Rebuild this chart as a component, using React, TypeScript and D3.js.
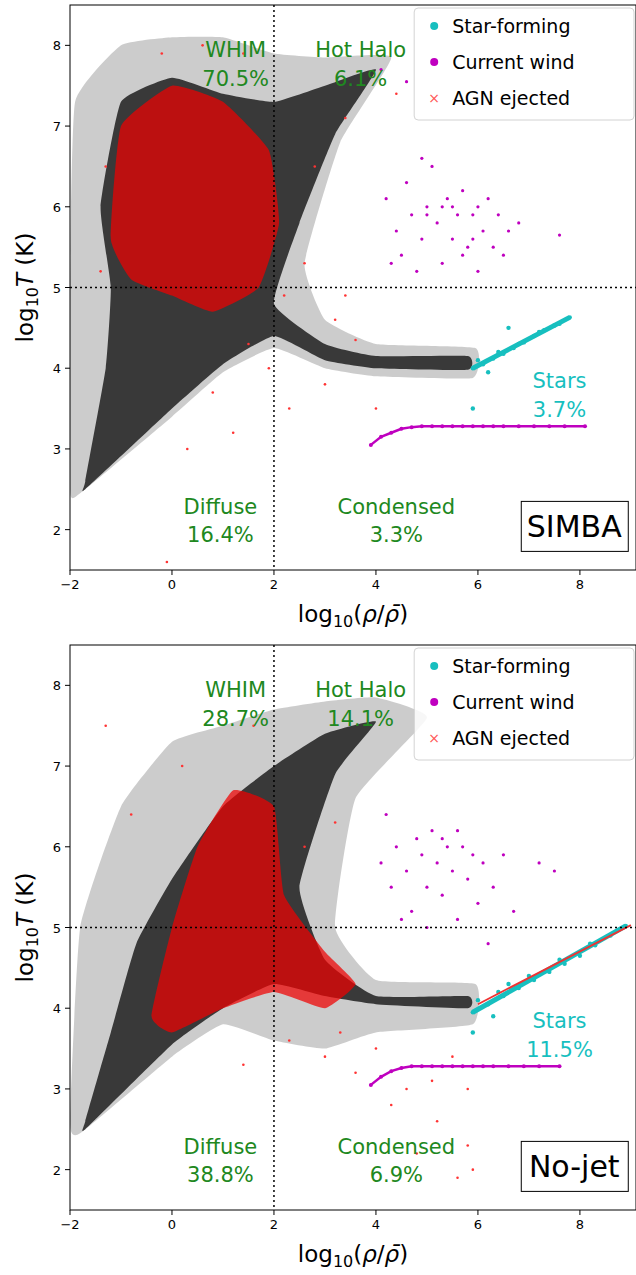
import React from 'react';
import * as d3 from 'd3';

// region outlines, in (log rho, log T)
const simbaSparse: [number, number][] = [[-1.8,2.45],[0,3.4],[1,3.95],[2,4.25],[3,4.0],[4,3.9],[5.9,3.88],[5.95,4.25],[4,4.3],[3,4.6],[2.6,5.3],[3.3,6.8],[4.3,7.85],[3,7.85],[2,7.9],[1,8.1],[0,8.1],[-1,8.0],[-1.9,7.3],[-2,5],[-2,2.5]];
const simbaDense: [number, number][] = [[-1.7,2.5],[0,3.5],[1,4.05],[2,4.4],[3,4.1],[4,4.0],[5.8,3.98],[5.8,4.15],[4,4.15],[3,4.3],[2,4.8],[2.5,5.8],[3.2,6.9],[4,7.7],[3,7.5],[2,7.3],[1,7.4],[0,7.6],[-1,7.3],[-1.4,6.0],[-1.2,5.0],[-1.3,4.0],[-1.7,2.6]];
const simbaRed: [number, number][] = [[-1.2,5.6],[-1.0,7.0],[0,7.5],[1,7.3],[1.9,6.7],[2.1,5.8],[1.7,5.0],[0.8,4.7],[0,4.9],[-0.8,5.1]];
const njSparse: [number, number][] = [[-1.8,2.45],[0,3.4],[1,3.8],[2,3.6],[3,3.5],[4,3.7],[5.9,3.8],[5.95,4.3],[4,4.35],[3.2,5.0],[3.6,6.6],[5,7.6],[4,7.85],[3,7.8],[2,7.7],[1,7.5],[0,7.3],[-1,6.5],[-1.8,5],[-2,2.6]];
const njDense: [number, number][] = [[-1.7,2.5],[0,3.55],[1,4.0],[2,4.3],[3,4.15],[4,4.05],[5.8,4.0],[5.8,4.15],[4,4.15],[3,4.6],[2.5,5.5],[3.2,6.9],[4,7.55],[3,7.4],[2,7.0],[1,6.5],[0,5.6],[-0.7,4.8],[-1.2,3.7],[-1.7,2.6]];
const njRed: [number, number][] = [[-0.4,3.9],[0,5.0],[0.5,6.0],[1.2,6.7],[2,6.5],[2.2,5.4],[3,4.7],[3.6,4.3],[3,4.0],[2,4.2],[1,4.0],[0,3.7]];

const simbaRedPts: [number, number][] = [[-0.2,7.9],[0.6,8.0],[1.4,7.9],[3.4,7.1],[2.8,6.5],[4.4,7.4],[2.6,5.3],[3.2,4.6],[3.6,4.35],[2.2,4.9],[1.5,4.3],[0.8,3.7],[1.2,3.2],[3,3.8],[-1.3,6.5],[-1.4,5.2],[2.3,3.5],[0.3,3.0],[-0.1,1.6],[4,3.5],[3.4,4.9],[1.9,4.0]];
const njRedPts: [number, number][] = [[-1.3,7.5],[0.2,7.0],[1.6,7.5],[3.2,6.3],[2.6,6.0],[4,3.5],[4.6,3.0],[5.2,2.6],[5.8,2.3],[5.6,1.9],[3.6,3.2],[3,3.4],[2.3,3.6],[4.8,2.2],[5.5,3.4],[5.8,3.0],[4.3,2.8],[1.4,3.3],[-0.8,6.4],[5.1,3.1],[5.9,2.0],[3.3,3.7]];

const simbaWindBlob: [number, number][] = [[4.2,6.1],[4.4,5.7],[4.5,5.4],[4.6,6.3],[4.7,5.9],[4.9,5.6],[5,6.0],[5.1,6.5],[5.2,5.8],[5.3,5.3],[5.4,6.1],[5.5,5.6],[5.6,5.9],[5.7,6.2],[5.8,5.5],[5.9,5.9],[6,5.2],[6.1,5.7],[6.2,6.1],[6.3,5.5],[6.4,5.9],[6.6,5.7],[6.8,5.8],[4.8,5.2],[5.5,6.0],[5.0,5.9],[4.9,6.6],[6.0,6.0],[7.6,5.65],[5.3,6.0],[4.3,5.3],[5.7,5.4],[6.5,5.4],[5.9,5.6],[4.6,7.55],[4.1,7.7]];
const simbaWindLine: [number, number][] = [[3.9,3.05],[4.1,3.15],[4.3,3.2],[4.5,3.25],[4.7,3.27],[4.9,3.28],[5.1,3.28],[5.3,3.28],[5.5,3.28],[5.7,3.28],[5.9,3.28],[6.1,3.28],[6.3,3.28],[6.5,3.28],[6.8,3.28],[7.1,3.28],[7.4,3.28],[7.7,3.28],[8.1,3.28]];
const njWindBlob: [number, number][] = [[4.1,5.8],[4.3,5.5],[4.4,6.0],[4.6,5.7],[4.7,5.2],[4.8,6.1],[4.9,5.9],[5.0,5.5],[5.1,6.2],[5.2,5.8],[5.3,5.4],[5.4,6.0],[5.5,5.7],[5.6,5.1],[5.7,6.0],[5.8,5.6],[5.9,5.9],[6.0,5.3],[6.1,5.8],[6.3,5.5],[6.5,5.9],[6.7,5.2],[7.2,5.8],[7.5,5.7],[4.5,5.1],[5.0,5.0],[5.6,6.2],[6.2,4.8],[4.2,6.4],[5.3,6.1]];
const njWindLine: [number, number][] = [[3.9,3.05],[4.1,3.15],[4.3,3.22],[4.5,3.26],[4.7,3.28],[4.9,3.28],[5.1,3.28],[5.3,3.28],[5.5,3.28],[5.7,3.28],[5.9,3.28],[6.1,3.28],[6.3,3.28],[6.6,3.28],[6.9,3.28],[7.2,3.28],[7.6,3.28]];
const simbaStars: [number, number][] = [[5.9,4.0],[6.1,4.05],[6.3,4.12],[6.5,4.18],[6.7,4.25],[6.9,4.32],[7.1,4.4],[7.3,4.47],[7.5,4.53],[7.8,4.63],[6.0,4.1],[6.4,4.2],[6.8,4.3],[7.2,4.45],[7.6,4.55],[6.6,4.5],[6.2,3.95],[5.9,3.5]];
const njStars: [number, number][] = [[5.9,3.95],[6.2,4.05],[6.5,4.15],[6.8,4.25],[7.1,4.35],[7.4,4.45],[7.7,4.55],[8,4.65],[8.3,4.78],[8.6,4.9],[8.9,5.02],[6.0,4.1],[6.4,4.2],[7,4.4],[7.6,4.6],[8.2,4.8],[6.3,3.9],[6.6,4.3],[5.9,3.7]];

const xTicks = [-2, 0, 2, 4, 6, 8];
const yTicks = [2, 3, 4, 5, 6, 7, 8];
const green = '#208820';
const cyan = '#17bfbf';
const mag = '#bf00bf';

type P = { top: number; name: string; pct: string[]; sparse: [number, number][]; dense: [number, number][]; red: [number, number][]; redPts: [number, number][]; blob: [number, number][]; wline: [number, number][]; stars: [number, number][]; redStars: boolean };

const panels: P[] = [
  { top: 5, name: 'SIMBA', pct: ['70.5%', '6.1%', '16.4%', '3.3%', '3.7%'], sparse: simbaSparse, dense: simbaDense, red: simbaRed, redPts: simbaRedPts, blob: simbaWindBlob, wline: simbaWindLine, stars: simbaStars, redStars: false },
  { top: 645, name: 'No-jet', pct: ['28.7%', '14.1%', '38.8%', '6.9%', '11.5%'], sparse: njSparse, dense: njDense, red: njRed, redPts: njRedPts, blob: njWindBlob, wline: njWindLine, stars: njStars, redStars: true },
];

const Panel = ({ p }: { p: P }) => {
  const L = 70, R = 636, T = p.top, B = p.top + 565;
  const x = d3.scaleLinear().domain([-2, 9.1]).range([L, R]);
  const y = d3.scaleLinear().domain([1.5, 8.5]).range([B, T]);
  const area = d3.line<[number, number]>().x(d => x(d[0])).y(d => y(d[1])).curve(d3.curveCardinalClosed.tension(0.6));
  const path = d3.line<[number, number]>().x(d => x(d[0])).y(d => y(d[1]));
  const clip = `clip-${p.name}`;
  const txt = (tx: number, ty: number, s: string, c = green) => (
    <text x={x(tx)} y={y(ty)} fill={c} fontSize={21} textAnchor="middle">{s}</text>
  );
  const s0 = p.stars[0], s1 = p.stars[9 + (p.redStars ? 1 : 0)];
  return (
    <g fontFamily="DejaVu Sans">
      <clipPath id={clip}><rect x={L} y={T} width={R - L} height={B - T} /></clipPath>
      <g clipPath={`url(#${clip})`}>
        <path d={area(p.sparse)!} fill="#000" opacity={0.2} />
        <path d={area(p.dense)!} fill="#000" opacity={0.72} />
        <path d={area(p.red)!} fill="#e00" opacity={0.72} />
        {p.redPts.map((d, i) => <circle key={i} cx={x(d[0])} cy={y(d[1])} r={1.3} fill="#f33" />)}
        <line x1={x(s0[0])} y1={y(s0[1])} x2={x(s1[0])} y2={y(s1[1])} stroke={cyan} strokeWidth={5} />
        {p.stars.map((d, i) => <circle key={i} cx={x(d[0])} cy={y(d[1])} r={2.2} fill={cyan} />)}
        {p.redStars && <line x1={x(6)} y1={y(4.05)} x2={x(9)} y2={y(5.03)} stroke="#e33" strokeWidth={1.8} />}
        {p.blob.map((d, i) => <circle key={i} cx={x(d[0])} cy={y(d[1])} r={1.6} fill={mag} />)}
        <path d={path(p.wline)!} stroke={mag} strokeWidth={2.5} fill="none" />
        {p.wline.map((d, i) => <circle key={i} cx={x(d[0])} cy={y(d[1])} r={2} fill={mag} />)}
        <line x1={x(2)} x2={x(2)} y1={T} y2={B} stroke="#000" strokeDasharray="2,3" strokeWidth={1.5} />
        <line x1={L} x2={R} y1={y(5)} y2={y(5)} stroke="#000" strokeDasharray="2,3" strokeWidth={1.5} />
      </g>
      <rect x={L} y={T} width={R - L} height={B - T} fill="none" stroke="#000" />
      {xTicks.map(t => (
        <g key={t}>
          <line x1={x(t)} x2={x(t)} y1={B} y2={B + 5} stroke="#000" />
          <text x={x(t)} y={B + 19} fontSize={13} textAnchor="middle">{t < 0 ? '\u2212' + -t : t}</text>
        </g>
      ))}
      {yTicks.map(t => (
        <g key={t}>
          <line x1={L - 5} x2={L} y1={y(t)} y2={y(t)} stroke="#000" />
          <text x={L - 9} y={y(t) + 5} fontSize={13} textAnchor="end">{t}</text>
        </g>
      ))}
      <text x={(L + R) / 2} y={B + 52} fontSize={23} textAnchor="middle">log<tspan fontSize={16} dy={5}>10</tspan><tspan dy={-5}>(</tspan><tspan fontStyle="italic">ρ</tspan>/<tspan fontStyle="italic">ρ̄</tspan>)</text>
      <text transform={`translate(33,${(T + B) / 2}) rotate(-90)`} fontSize={23} textAnchor="middle">log<tspan fontSize={16} dy={5}>10</tspan><tspan dy={-5} fontStyle="italic">T</tspan> (K)</text>
      {txt(1.25, 7.85, 'WHIM')}{txt(1.25, 7.5, p.pct[0])}
      {txt(3.7, 7.85, 'Hot Halo')}{txt(3.7, 7.5, p.pct[1])}
      {txt(0.95, 2.2, 'Diffuse')}{txt(0.95, 1.85, p.pct[2])}
      {txt(4.4, 2.2, 'Condensed')}{txt(4.4, 1.85, p.pct[3])}
      {txt(7.6, 3.75, 'Stars', cyan)}{txt(7.6, 3.4, p.pct[4], cyan)}
      <rect x={x(6.85)} y={y(2.35)} width={107} height={50} fill="#fff" stroke="#000" />
      <text x={x(6.85) + 53} y={y(2.35) + 36} fontSize={30} textAnchor="middle">{p.name}</text>
      <g transform={`translate(${x(4.75)},${T + 3})`}>
        <rect width={R - x(4.75) - 2} height={112} rx={4} fill="#fff" opacity={0.85} stroke="#ccc" />
        <circle cx={20} cy={18} r={4} fill={cyan} />
        <text x={38} y={25} fontSize={19}>Star-forming</text>
        <circle cx={20} cy={54} r={4} fill={mag} />
        <text x={38} y={61} fontSize={19}>Current wind</text>
        <text x={20} y={95} fontSize={14} fill="#f55" textAnchor="middle">×</text>
        <text x={38} y={97} fontSize={19}>AGN ejected</text>
      </g>
    </g>
  );
};

export default function App() {
  return (
    <svg width={636} height={1275} style={{ position: 'absolute', left: 0, top: 0, background: '#fff' }}>
      {panels.map(p => <Panel key={p.name} p={p} />)}
    </svg>
  );
}
